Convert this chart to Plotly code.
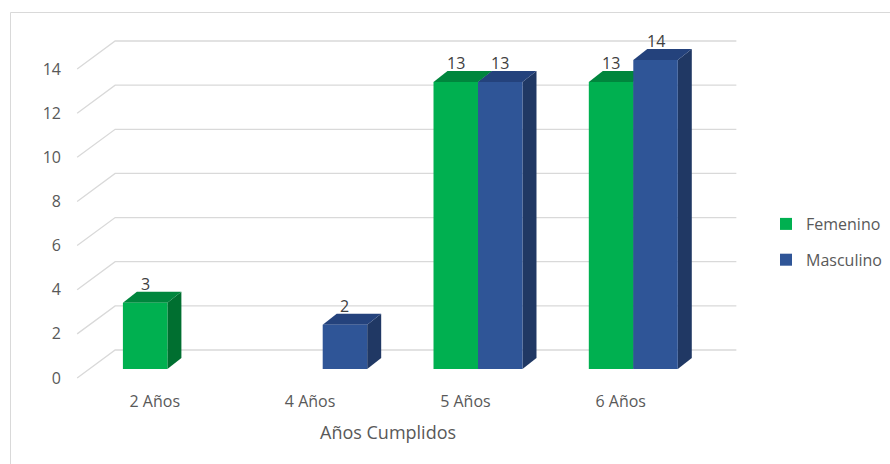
import plotly.graph_objects as go

# ---------------- data ----------------
CATEGORIES = ["2 Años", "4 Años", "5 Años", "6 Años"]
FEMENINO = [3, None, 13, 13]
MASCULINO = [None, 2, 13, 14]
SERIES_NAMES = ["Femenino", "Masculino"]
Y_TICKS = [0, 2, 4, 6, 8, 10, 12, 14]
X_TITLE = "Años Cumplidos"

# ---------------- styling / layout ----------------
FRONT_COLORS = ["#00B050", "#2F5597"]
TOP_COLORS = ["#00863D", "#24427C"]
SIDE_COLORS = ["#006F30", "#203864"]
GRID = "#D9D9D9"
TXT = "#595959"
LBL = "#404040"
FONT = "Open Sans"

W, H = 890, 464
L, R, T, B = 70, 885, 28, 390
PX_CAT = 155.3      # pixels per category step (bar plane)
PX_VAL = 22.07      # pixels per value unit
CAT0_PX = 167.4     # pixel of first category centre (bar plane)
ZERO_PX = 369       # pixel of value 0 (bar plane)
BARGAP = 0.427

# bar-plane axis ranges
x_lo = (L - CAT0_PX) / PX_CAT
x_hi = (R - CAT0_PX) / PX_CAT
y_lo = -(B - ZERO_PX) / PX_VAL
y_hi = (ZERO_PX - T) / PX_VAL


def dx(px):
    return px / PX_CAT


def dy(px):
    return px / PX_VAL


BAR_DEPTH = (dx(14), dy(11))
FRONT = (dx(-12.6), dy(-9))   # front floor edge relative to bar faces
BACK = (dx(25.4), dy(19))     # back wall relative to bar faces

ncat = len(CATEGORIES)
xs = list(range(ncat))
series = [FEMENINO, MASCULINO]

fig = go.Figure()
for i, (name, vals) in enumerate(zip(SERIES_NAMES, series)):
    fig.add_trace(go.Bar(
        x=xs, y=vals, name=name, legendgroup=name,
        marker=dict(color=FRONT_COLORS[i], line=dict(width=0)),
        hoverinfo="skip",
    ))

shapes = []
# back wall gridlines + diagonal side lines
for v in Y_TICKS:
    x_front = -0.5 + FRONT[0]
    x_back = -0.5 + BACK[0]
    x_back_r = ncat - 0.5 + BACK[0]
    path = (f"M{x_front},{v + FRONT[1]} L{x_back},{v + BACK[1]} "
            f"L{x_back_r},{v + BACK[1]}")
    shapes.append(dict(type="path", xref="x", yref="y", path=path,
                       line=dict(color=GRID, width=1.3), layer="below"))

gw = 1 - BARGAP
w = gw / len(series)
annotations = []
for i, vals in enumerate(series):
    for c, v in enumerate(vals):
        if v is None:
            continue
        xl = c - gw / 2 + i * w
        xr = xl + w
        ddx, ddy = BAR_DEPTH
        top = (f"M{xl},{v} L{xr},{v} L{xr + ddx},{v + ddy} "
               f"L{xl + ddx},{v + ddy} Z")
        side = (f"M{xr},0 L{xr},{v} L{xr + ddx},{v + ddy} "
                f"L{xr + ddx},{ddy} Z")
        shapes.append(dict(type="path", xref="x", yref="y", path=side,
                           fillcolor=SIDE_COLORS[i], line=dict(width=0),
                           layer="below"))
        shapes.append(dict(type="path", xref="x", yref="y", path=top,
                           fillcolor=TOP_COLORS[i], line=dict(width=0),
                           layer="below"))
        annotations.append(dict(x=(xl + xr) / 2, y=v, xref="x", yref="y",
                                text=str(v), showarrow=False, yshift=19,
                                yanchor="middle",
                                font=dict(family=FONT, size=16, color=LBL)))


def px_x(px):
    return (px - L) / (R - L)


def px_y(py):
    return (B - py) / (B - T)


# chart-area border (top and left visible)
shapes.append(dict(type="rect", xref="paper", yref="paper",
                   x0=px_x(10.5), x1=px_x(900), y0=px_y(480), y1=px_y(12.5),
                   line=dict(color=GRID, width=1), fillcolor="rgba(0,0,0,0)",
                   layer="below"))

annotations.append(dict(x=(ncat - 1) / 2 + FRONT[0], xref="x",
                        y=px_y(432), yref="paper", text=X_TITLE,
                        showarrow=False, yanchor="middle", xanchor="center",
                        font=dict(family=FONT, size=18, color=TXT)))

fig.update_layout(
    width=W, height=H,
    margin=dict(l=L, r=W - R, t=T, b=H - B, pad=0, autoexpand=False),
    paper_bgcolor="white", plot_bgcolor="rgba(0,0,0,0)",
    barmode="group", bargap=BARGAP, bargroupgap=0,
    shapes=shapes, annotations=annotations,
    font=dict(family=FONT, size=16, color=TXT),
    showlegend=True,
    legend=dict(x=px_x(766), xanchor="left", y=px_y(242), yanchor="middle",
                traceorder="grouped", tracegroupgap=12,
                font=dict(family=FONT, size=16, color=TXT),
                bgcolor="rgba(0,0,0,0)"),
    # tick labels sit on the front floor edge of the 3-D box
    xaxis=dict(range=[x_lo, x_hi],
               tickvals=[c + FRONT[0] for c in xs], ticktext=CATEGORIES,
               showgrid=False, zeroline=False, showline=False, ticks="",
               fixedrange=True,
               tickfont=dict(family=FONT, size=16, color=TXT)),
    yaxis=dict(range=[y_lo, y_hi],
               tickvals=[v + FRONT[1] for v in Y_TICKS],
               ticktext=[str(v) for v in Y_TICKS],
               showgrid=False, zeroline=False, showline=False, ticks="",
               ticklabelstandoff=8, fixedrange=True,
               tickfont=dict(family=FONT, size=16, color=TXT)),
)

fig.write_html("out.html")
